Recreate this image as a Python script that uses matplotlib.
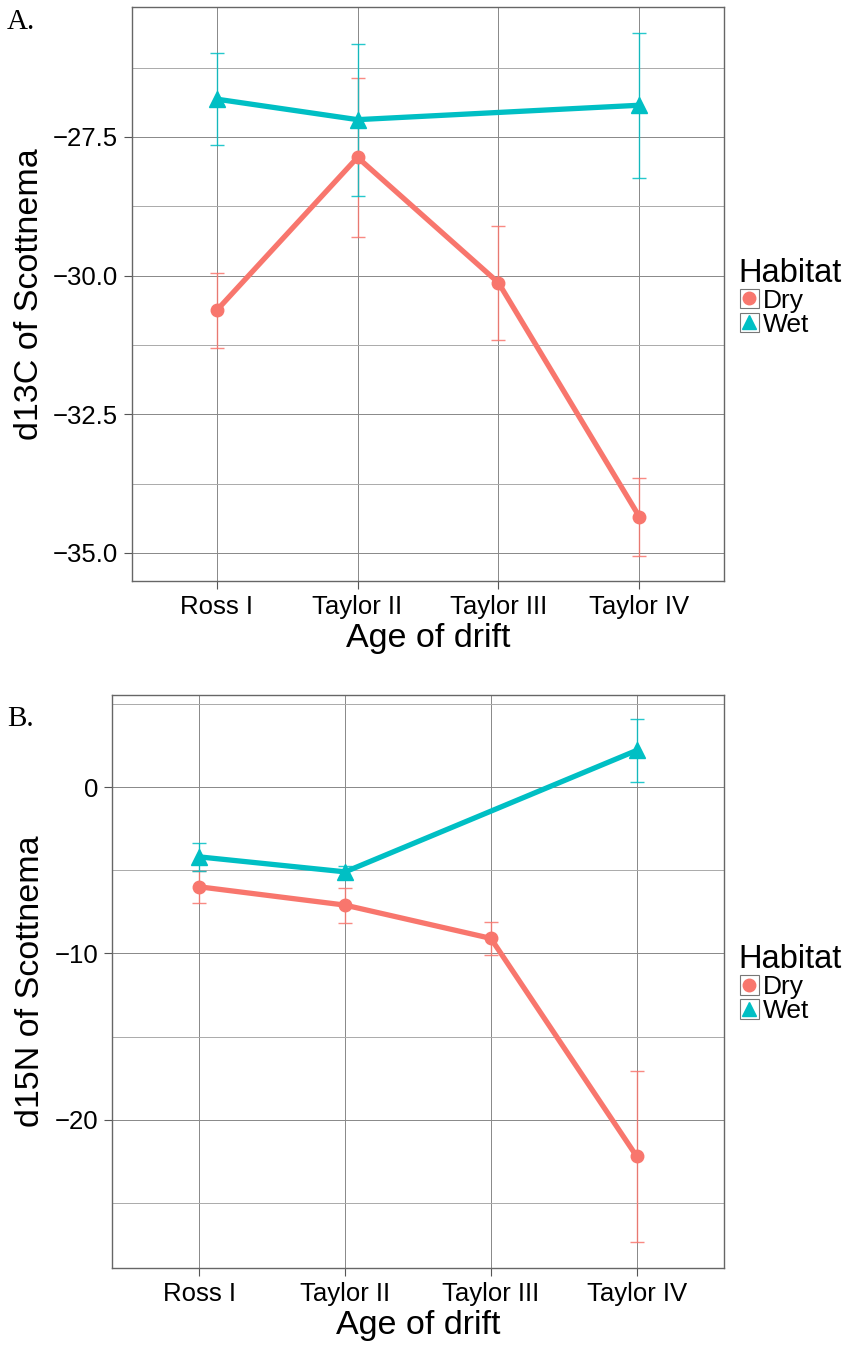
#!/usr/bin/python3
# -*- coding: utf-8 -*-
import matplotlib
matplotlib.use('Agg')
import matplotlib.pyplot as plt
from matplotlib.lines import Line2D
from matplotlib.patches import Rectangle
from matplotlib.legend_handler import HandlerLine2D
import numpy as np

# drift ages on the x axis
drifts = ['Ross I', 'Taylor II', 'Taylor III', 'Taylor IV']

# d13C means and error half-widths
d13c_dry_x = ['Ross I', 'Taylor II', 'Taylor III', 'Taylor IV']
d13c_dry = [-30.63, -27.87, -30.13, -34.35]
d13c_dry_err = [0.67, 1.43, 1.03, 0.70]
d13c_wet_x = ['Ross I', 'Taylor II', 'Taylor IV']
d13c_wet = [-26.82, -27.19, -26.93]
d13c_wet_err = [0.83, 1.37, 1.31]

# d15N means and error half-widths
d15n_dry_x = ['Ross I', 'Taylor II', 'Taylor III', 'Taylor IV']
d15n_dry = [-6.0, -7.1, -9.1, -22.2]
d15n_dry_err = [0.95, 1.05, 1.0, 5.15]
d15n_wet_x = ['Ross I', 'Taylor II', 'Taylor IV']
d15n_wet = [-4.2, -5.1, 2.2]
d15n_wet_err = [0.85, 0.35, 1.9]

DRY = '#F8766D'
WET = '#00BFC4'
SANS = 'Liberation Sans'


class BoxedKey(HandlerLine2D):
    """legend key drawn inside a small grey box"""

    def create_artists(self, legend, orig_handle, xdescent, ydescent,
                       width, height, fontsize, trans):
        arts = super().create_artists(legend, orig_handle, xdescent, ydescent,
                                      width, height, fontsize, trans)
        side = height * 1.05
        box = Rectangle((width / 2 - side / 2 - xdescent,
                         height / 2 - side / 2 - ydescent), side, side,
                        facecolor='none', edgecolor='#777777', lw=0.8,
                        transform=trans)
        return [box] + arts


def draw_panel(ax, dry_x, dry, dry_err, wet_x, wet, wet_err,
               ylim, major, minor, fmt, ylabel):
    pos = {d: i + 1 for i, d in enumerate(drifts)}
    xd = [pos[d] for d in dry_x]
    xw = [pos[d] for d in wet_x]

    ax.errorbar(xd, dry, yerr=dry_err, fmt='none', ecolor=DRY, alpha=0.85,
                elinewidth=1.0, capsize=5, capthick=1.0, zorder=3)
    ax.errorbar(xw, wet, yerr=wet_err, fmt='none', ecolor=WET, alpha=0.85,
                elinewidth=1.0, capsize=5, capthick=1.0, zorder=3)
    ax.plot(xd, dry, color=DRY, lw=3.8, marker='o', ms=9,
            solid_capstyle='butt', zorder=4)
    ax.plot(xw, wet, color=WET, lw=3.8, marker='^', ms=11,
            solid_capstyle='butt', zorder=5)

    ax.set_xlim(0.4, 4.6)
    ax.set_ylim(*ylim)
    ax.set_xticks(range(1, 5))
    ax.set_xticklabels(drifts, fontsize=18.5, family=SANS)
    ax.set_yticks(major)
    ax.set_yticklabels([fmt.format(v).replace('-', '\u2212') for v in major],
                       fontsize=18.5, family=SANS)
    ax.set_yticks(minor, minor=True)
    ax.tick_params(axis='y', which='minor', length=0)
    ax.tick_params(which='major', length=6, color='#555555', width=0.8, pad=4)

    ax.grid(True, which='major', color='#888888', lw=0.7)
    ax.grid(True, which='minor', axis='y', color='#aaaaaa', lw=0.7)
    ax.set_axisbelow(True)
    for s in ax.spines.values():
        s.set_color('#666666')
        s.set_linewidth(1.0)

    ax.set_xlabel('Age of drift', fontsize=24.5, family=SANS, labelpad=3)
    ax.set_ylabel(ylabel, fontsize=24.5, family=SANS, labelpad=6)


def add_legend(fig, y):
    handles = [
        Line2D([], [], color=DRY, lw=0, marker='o', ms=9),
        Line2D([], [], color=WET, lw=0, marker='^', ms=10),
    ]
    leg = fig.legend(handles, ['Dry', 'Wet'], title='Habitat',
                     loc='upper left', bbox_to_anchor=(0.868, y),
                     frameon=False, handlelength=0.8, handletextpad=0.1,
                     labelspacing=0.0, borderpad=0, borderaxespad=0,
                     handler_map={Line2D: BoxedKey()},
                     prop={'family': SANS, 'size': 19})
    leg.get_title().set_fontsize(23.5)
    leg.get_title().set_family(SANS)
    leg._legend_box.align = 'left'
    leg._legend_box.sep = 0
    return leg


def main():
    fig = plt.figure(figsize=(8.51, 13.52), dpi=100)

    ax1 = fig.add_axes([0.1551, 0.5703, 0.6957, 0.4245])
    draw_panel(ax1, d13c_dry_x, d13c_dry, d13c_dry_err,
               d13c_wet_x, d13c_wet, d13c_wet_err,
               (-35.505, -25.16), [-35.0, -32.5, -30.0, -27.5],
               [-33.75, -31.25, -28.75, -26.25], '{:.1f}', 'd13C of Scottnema')

    ax2 = fig.add_axes([0.1316, 0.0621, 0.7192, 0.4238])
    draw_panel(ax2, d15n_dry_x, d15n_dry, d15n_dry_err,
               d15n_wet_x, d15n_wet, d15n_wet_err,
               (-28.92, 5.53), [-20, -10, 0],
               [-25, -15, -5, 5], '{:.0f}', 'd15N of Scottnema')

    add_legend(fig, 0.8095)
    add_legend(fig, 0.3015)

    fig.text(0.008, 0.984, 'A.', fontsize=21, family='Liberation Serif',
             va='center')
    fig.text(0.008, 0.468, 'B.', fontsize=21, family='Liberation Serif',
             va='center')

    fig.savefig('out.png', dpi=100)


if __name__ == '__main__':
    main()
